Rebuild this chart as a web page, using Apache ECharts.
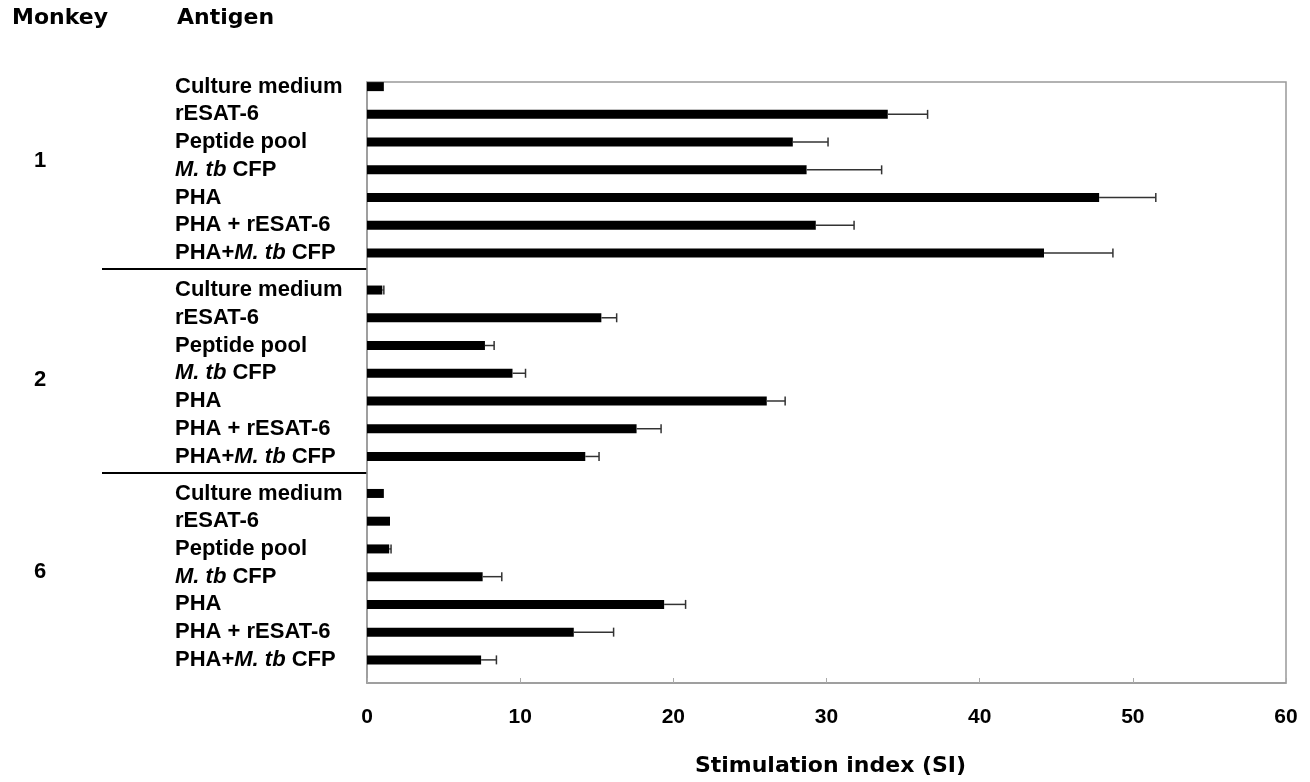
<!DOCTYPE html>
<html>
<head>
<meta charset="utf-8">
<script src="https://cdn.jsdelivr.net/npm/echarts@6/dist/echarts.min.js"></script>
<style>
html,body{margin:0;padding:0;background:#fff;}
#chart{width:1310px;height:782px;}
</style>
</head>
<body>
<div id="chart"></div>
<script>
// ---- data ----
const monkeys = ['1', '2', '6'];
const antigens = ['Culture medium', 'rESAT-6', 'Peptide pool', '{i|M. tb} CFP', 'PHA', 'PHA + rESAT-6', 'PHA+{i|M. tb} CFP'];
const siMonkey1 = [1.1, 34.0, 27.8, 28.7, 47.8, 29.3, 44.2];
const errMonkey1 = [0, 2.6, 2.3, 4.9, 3.7, 2.5, 4.5];
const siMonkey2 = [1.0, 15.3, 7.7, 9.5, 26.1, 17.6, 14.25];
const errMonkey2 = [0.1, 1.0, 0.6, 0.85, 1.2, 1.6, 0.9];
const siMonkey6 = [1.1, 1.5, 1.45, 7.55, 19.4, 13.5, 7.45];
const errMonkey6 = [0, 0, 0.12, 1.25, 1.4, 2.6, 1.0];
const xTicks = [0, 10, 20, 30, 40, 50, 60];
const xName = 'Stimulation index (SI)';

// ---- layout of category slots (3 slots per row, 4 slots gap between monkeys) ----
const SLOTS_PER_ROW = 3, GROUP_STEP = 22, TOTAL_SLOTS = 65;
const groups = [siMonkey1, siMonkey2, siMonkey6];
const errs = [errMonkey1, errMonkey2, errMonkey6];
const slotLabels = new Array(TOTAL_SLOTS).fill('');
const barData = new Array(TOTAL_SLOTS).fill('-');
const errData = [];
groups.forEach((vals, g) => {
  vals.forEach((v, r) => {
    const s = g * GROUP_STEP + r * SLOTS_PER_ROW;
    slotLabels[s] = antigens[r];
    barData[s] = v;
    if (errs[g][r] > 0) errData.push([v, s, v + errs[g][r]]);
  });
});

const sans = 'Liberation Sans, Arial, sans-serif';
const wide = 'DejaVu Sans, sans-serif';

const chart = echarts.init(document.getElementById('chart'));
chart.setOption({
  animation: false,
  backgroundColor: '#fff',
  grid: { left: 367, right: 24, top: 82, bottom: 99, show: true, borderColor: '#999', borderWidth: 1.5, backgroundColor: 'transparent' },
  xAxis: {
    type: 'value', min: xTicks[0], max: xTicks[xTicks.length - 1], interval: 10,
    name: xName, nameLocation: 'middle', nameGap: 72,
    nameTextStyle: { fontFamily: wide, fontWeight: 'bold', fontSize: 22, color: '#000', padding: [0, 0, 0, 8] },
    axisLine: { show: true, lineStyle: { color: '#999', width: 1.5 } },
    axisTick: { show: true, inside: true, length: 5, lineStyle: { color: '#aaa' } },
    splitLine: { show: false },
    axisLabel: { fontFamily: sans, fontWeight: 'bold', fontSize: 21, color: '#000', margin: 24 }
  },
  yAxis: {
    type: 'category', inverse: true, data: slotLabels,
    axisLine: { show: true, lineStyle: { color: '#999', width: 1.5 } },
    axisTick: { show: false },
    splitLine: { show: false },
    axisLabel: {
      interval: 0, align: 'left', margin: 192,
      fontFamily: sans, fontWeight: 'bold', fontSize: 22, color: '#000',
      rich: { i: { fontFamily: sans, fontWeight: 'bold', fontStyle: 'italic', fontSize: 22, color: '#000' } }
    }
  },
  series: [
    {
      type: 'bar', data: barData, barWidth: 9,
      itemStyle: { color: '#000' }
    },
    {
      type: 'custom', data: errData, z: 3,
      encode: { x: [0, 2], y: 1 },
      renderItem: function (params, api) {
        const p0 = api.coord([api.value(0), api.value(1)]);
        const p1 = api.coord([api.value(2), api.value(1)]);
        const h = 4.5;
        const st = { stroke: '#333', lineWidth: 1.5 };
        return {
          type: 'group',
          children: [
            { type: 'line', shape: { x1: p0[0], y1: p0[1], x2: p1[0], y2: p1[1] }, style: st },
            { type: 'line', shape: { x1: p1[0], y1: p1[1] - h, x2: p1[0], y2: p1[1] + h }, style: st }
          ]
        };
      }
    }
  ],
  graphic: [
    { type: 'text', left: 12, top: 7, style: { text: 'Monkey', font: 'bold 22px DejaVu Sans', fill: '#000' } },
    { type: 'text', left: 177, top: 7, style: { text: 'Antigen', font: 'bold 22px DejaVu Sans', fill: '#000' } },
    { type: 'text', x: 40, y: 161, style: { text: monkeys[0], font: 'bold 22px Liberation Sans', fill: '#000', align: 'center', verticalAlign: 'middle' } },
    { type: 'text', x: 40, y: 380, style: { text: monkeys[1], font: 'bold 22px Liberation Sans', fill: '#000', align: 'center', verticalAlign: 'middle' } },
    { type: 'text', x: 40, y: 572, style: { text: monkeys[2], font: 'bold 22px Liberation Sans', fill: '#000', align: 'center', verticalAlign: 'middle' } },
    { type: 'line', shape: { x1: 102, y1: 269, x2: 367, y2: 269 }, style: { stroke: '#000', lineWidth: 2 } },
    { type: 'line', shape: { x1: 102, y1: 473, x2: 367, y2: 473 }, style: { stroke: '#000', lineWidth: 2 } }
  ]
});
</script>
</body>
</html>
